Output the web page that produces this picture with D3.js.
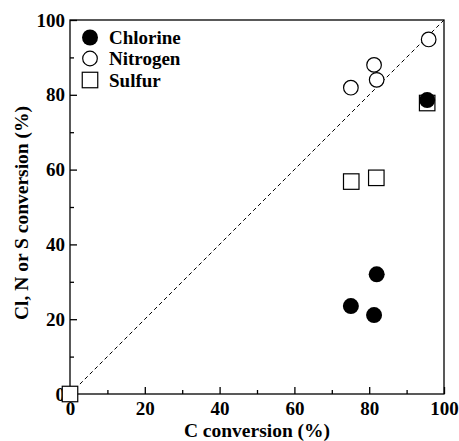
<!DOCTYPE html>
<html>
<head>
<meta charset="utf-8">
<script src="https://cdn.jsdelivr.net/npm/d3@7"></script>
<style>
  html, body { margin: 0; padding: 0; background: #fff; }
</style>
</head>
<body>
<svg id="chart" width="459" height="441"></svg>
<script>
// Conversion data (%): x = carbon conversion, y = element conversion
const chlorineX = [75.1, 81.3, 82.0, 95.5];
const chlorineY = [23.5, 21.1, 32.0, 78.6];
const nitrogenX = [75.1, 81.3, 82.0, 95.9];
const nitrogenY = [81.9, 88.0, 84.0, 94.8];
const sulfurX = [0, 75.2, 81.9, 95.5];
const sulfurY = [0, 56.8, 57.8, 77.8];
const majorTicks = [0, 20, 40, 60, 80, 100];
const minorTicks = [10, 30, 50, 70, 90];
const legendLabels = ["Chlorine", "Nitrogen", "Sulfur"];

const FONT = "Liberation Serif";
const svg = d3.select("#chart");
const plotL = 70, plotR = 444, plotT = 20, plotB = 394;

const x = d3.scaleLinear().domain([0, 100]).range([plotL, plotR]);
const y = d3.scaleLinear().domain([0, 100]).range([plotB, plotT]);

// Frame
svg.append("rect")
  .attr("x", plotL).attr("y", plotT)
  .attr("width", plotR - plotL).attr("height", plotB - plotT)
  .attr("fill", "none").attr("stroke", "#000").attr("stroke-width", 1.3);

// Axes with inward ticks
const xAxis = d3.axisBottom(x).tickValues(majorTicks).tickSizeInner(-7).tickSizeOuter(0).tickPadding(8);
const xMinor = d3.axisBottom(x).tickValues(minorTicks).tickSizeInner(-4).tickSizeOuter(0).tickFormat("");
const yAxis = d3.axisLeft(y).tickValues(majorTicks).tickSizeInner(-7).tickSizeOuter(0).tickPadding(5);
const yMinor = d3.axisLeft(y).tickValues(minorTicks).tickSizeInner(-4).tickSizeOuter(0).tickFormat("");

function style(g) {
  g.attr("font-family", null).attr("font-size", null);
  g.select(".domain").remove();
  g.selectAll("line").attr("stroke", "#000").attr("stroke-width", 1.3);
  g.selectAll("text")
    .attr("font-family", FONT).attr("font-size", 19).attr("font-weight", "bold")
    .attr("fill", "#000");
}
svg.append("g").attr("transform", `translate(0,${plotB})`).call(xAxis).call(style);
svg.append("g").attr("transform", `translate(0,${plotB})`).call(xMinor).call(style);
svg.append("g").attr("transform", `translate(${plotL},0)`).call(yAxis).call(style);
svg.append("g").attr("transform", `translate(${plotL},0)`).call(yMinor).call(style);

// 1:1 reference line
svg.append("line")
  .attr("x1", x(0)).attr("y1", y(0))
  .attr("x2", x(100)).attr("y2", y(100))
  .attr("stroke", "#000").attr("stroke-width", 1)
  .attr("stroke-dasharray", "4,3");

// Axis titles
svg.append("text")
  .attr("x", (plotL + plotR) / 2).attr("y", 437)
  .attr("text-anchor", "middle")
  .attr("font-family", FONT).attr("font-weight", "bold").attr("font-size", 19.5)
  .text("C conversion (%)");
svg.append("text")
  .attr("transform", `translate(28,213) rotate(-90)`)
  .attr("text-anchor", "middle")
  .attr("font-family", FONT).attr("font-weight", "bold").attr("font-size", 19.5)
  .text("Cl, N or S conversion (%)");

const side = 15.5;
// Sulfur squares
svg.append("g").selectAll("rect")
  .data(d3.zip(sulfurX, sulfurY)).join("rect")
  .attr("x", d => x(d[0]) - side / 2).attr("y", d => y(d[1]) - side / 2)
  .attr("width", side).attr("height", side)
  .attr("fill", "#fff").attr("stroke", "#000").attr("stroke-width", 1.2);
// Nitrogen open circles
svg.append("g").selectAll("circle")
  .data(d3.zip(nitrogenX, nitrogenY)).join("circle")
  .attr("cx", d => x(d[0])).attr("cy", d => y(d[1])).attr("r", 7.3)
  .attr("fill", "#fff").attr("stroke", "#000").attr("stroke-width", 1.2);
// Chlorine filled circles
svg.append("g").selectAll("circle")
  .data(d3.zip(chlorineX, chlorineY)).join("circle")
  .attr("cx", d => x(d[0])).attr("cy", d => y(d[1])).attr("r", 8)
  .attr("fill", "#000");

// Legend
const lg = svg.append("g");
const ly = [37.5, 58.5, 80];
lg.append("circle").attr("cx", 90).attr("cy", ly[0]).attr("r", 8).attr("fill", "#000");
lg.append("circle").attr("cx", 90).attr("cy", ly[1]).attr("r", 7.3)
  .attr("fill", "#fff").attr("stroke", "#000").attr("stroke-width", 1.2);
lg.append("rect").attr("x", 90 - side / 2).attr("y", ly[2] - side / 2)
  .attr("width", side).attr("height", side)
  .attr("fill", "#fff").attr("stroke", "#000").attr("stroke-width", 1.2);
legendLabels.forEach((t, i) => {
  lg.append("text").attr("x", 109).attr("y", ly[i] + 6.5)
    .attr("font-family", FONT).attr("font-weight", "bold").attr("font-size", 19)
    .text(t);
});
</script>
</body>
</html>
